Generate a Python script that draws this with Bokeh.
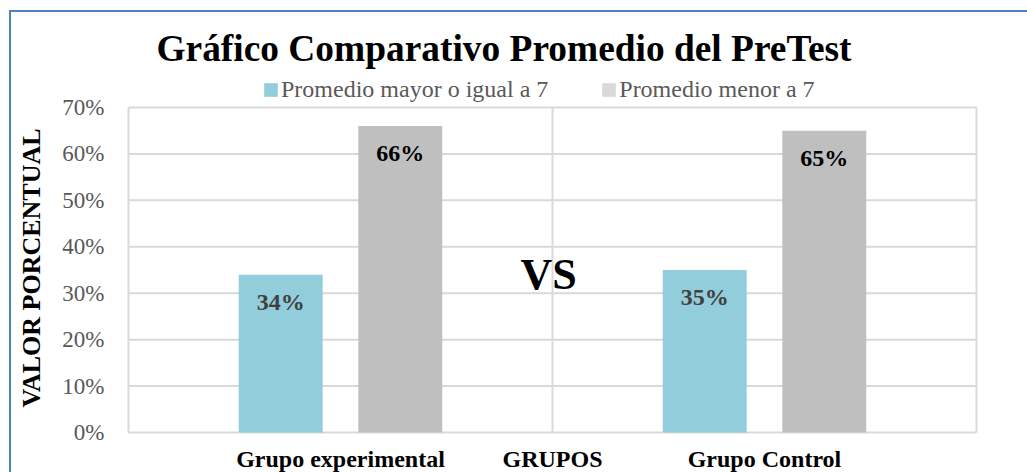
from bokeh.plotting import figure
from bokeh.models import (FixedTicker, NumeralTickFormatter, Legend, LegendItem,
                          ColumnDataSource, Label, Range1d, Title)
from bokeh.core.properties import value
from bokeh.embed import file_html
from bokeh.resources import INLINE

# ---------------- data ----------------
title_text = "Gráfico Comparativo Promedio del PreTest"
categories = ["Grupo experimental", "Grupo Control"]
x_axis_title = "GRUPOS"
y_axis_title = "VALOR PORCENTUAL"
series_names = ["Promedio mayor o igual a 7", "Promedio menor a 7"]
mayor_igual_7 = [0.34, 0.35]
menor_7 = [0.66, 0.65]
y_ticks = [0.0, 0.1, 0.2, 0.3, 0.4, 0.5, 0.6, 0.7]
vs_text = "VS"
vs_level = 0.34

# ---------------- style / geometry ----------------
FONT = "Liberation Serif"
BLUE = "#92CDDC"
GRAY = "#BFBFBF"
GRAY_LEG = "#D9D9D9"
GRID = "#D9D9D9"
TXT = "#595959"
FRAME_BLUE = "#4F81BD"

CW, CH = 1027, 472             # canvas
PA_L, PA_R, PA_T, PA_B = 128, 976, 107, 432   # plot-area box on canvas
PAD = 3
n = len(categories)
y_top = y_ticks[-1]
xs = (PA_R - PA_L) / n
ys = (PA_B - PA_T) / y_top
FL, FR, FB = PA_L - PAD, PA_R + PAD, PA_B + PAD

cat_x = [i + 0.5 for i in range(n)]
off = 0.141
bw = 0.198

p = figure(frame_width=FR - FL, frame_height=FB, title=None,
           min_border_left=FL, min_border_right=CW - FR,
           min_border_top=0, min_border_bottom=CH - FB,
           x_range=Range1d(-PAD / xs, n + PAD / xs),
           y_range=Range1d(-PAD / ys, y_top + PA_T / ys),
           output_backend="svg", toolbar_location=None, tools="")
p.styles = {
    "background-color": "white",
    "background-image": f"linear-gradient({FRAME_BLUE}, {FRAME_BLUE}), linear-gradient({FRAME_BLUE}, {FRAME_BLUE})",
    "background-size": "2px 100%, 100% 2px",
    "background-position": "9px 10px, 9px 10px",
    "background-repeat": "no-repeat",
}
p.background_fill_color = None
p.border_fill_color = None
p.outline_line_color = None
p.grid.visible = False

# plot-area grid and border
p.segment(x0=[0] * len(y_ticks), x1=[n] * len(y_ticks), y0=y_ticks, y1=y_ticks,
          line_color=GRID, line_width=2)
vx = list(range(n + 1))
p.segment(x0=vx, x1=vx, y0=[0] * len(vx), y1=[y_top] * len(vx),
          line_color=GRID, line_width=2)

src = ColumnDataSource(dict(
    x1=[c - off for c in cat_x], x2=[c + off for c in cat_x],
    a=mayor_igual_7, b=menor_7,
    la=[f"{round(v*100)}%" for v in mayor_igual_7],
    lb=[f"{round(v*100)}%" for v in menor_7],
))

r_blue = p.vbar(x="x1", top="a", width=bw, source=src, fill_color=BLUE, line_color=None)
p.vbar(x="x2", top="b", width=bw, source=src, fill_color=GRAY, line_color=None)
# zero-width twin of the gray series, only used for its (lighter) legend swatch
r_gray_leg = p.vbar(x="x2", top="b", width=0, source=src, fill_color=GRAY_LEG, line_color=None)

p.text(x="x1", y="a", text="la", source=src, y_offset=27,
       text_font=value(FONT), text_font_style="bold", text_font_size="24px",
       text_color="#404040", text_align="center", text_baseline="middle")
p.text(x="x2", y="b", text="lb", source=src, y_offset=27,
       text_font=value(FONT), text_font_style="bold", text_font_size="24px",
       text_color="#000000", text_align="center", text_baseline="middle")

p.add_layout(Label(x=n / 2, y=vs_level, text=vs_text, x_offset=-4,
                   text_font=FONT, text_font_style="bold", text_font_size="44px",
                   text_color="#000000", text_align="center", text_baseline="middle"))

# chart title (inside the extended frame, screen units from frame bottom-left)
p.add_layout(Label(x=156 - FL, y=FB - 48, x_units="screen", y_units="screen",
                   text=title_text, text_font=FONT, text_font_style="bold",
                   text_font_size="37.4px", text_color="#000000",
                   text_align="left", text_baseline="middle"))

# legend
legend = Legend(items=[LegendItem(label=series_names[0], renderers=[r_blue]),
                       LegendItem(label=series_names[1], renderers=[r_gray_leg])],
                orientation="horizontal", location=(262 - FL, FB - 102.5),
                padding=0, margin=0, spacing=52, label_standoff=2,
                glyph_width=17, glyph_height=17,
                border_line_color=None, background_fill_alpha=0,
                label_text_font=FONT, label_text_font_size="24px",
                label_text_color=TXT)
p.add_layout(legend, "center")

# y axis
p.yaxis.ticker = FixedTicker(ticks=y_ticks)
p.yaxis.formatter = NumeralTickFormatter(format="0%")
p.yaxis.axis_line_color = None
p.yaxis.major_tick_line_color = None
p.yaxis.minor_tick_line_color = None
p.yaxis.major_tick_out = 0
p.yaxis.major_tick_in = 0
p.yaxis.major_label_standoff = 21
p.yaxis.major_label_text_font = FONT
p.yaxis.major_label_text_font_size = "23px"
p.yaxis.major_label_text_color = TXT

p.add_layout(Title(text=y_axis_title, align="left", offset=28, standoff=24,
                   vertical_align="top", text_font=FONT, text_font_style="bold",
                   text_font_size="26px", text_color="#000000"), "left")

# x axis
xt = [cat_x[0], n / 2, cat_x[1]]
p.xaxis.ticker = FixedTicker(ticks=xt)
p.xaxis.major_label_overrides = {xt[0]: categories[0], xt[1]: x_axis_title, xt[2]: categories[1]}
p.xaxis.axis_line_color = None
p.xaxis.major_tick_line_color = None
p.xaxis.minor_tick_line_color = None
p.xaxis.major_tick_out = 0
p.xaxis.major_tick_in = 0
p.xaxis.major_label_standoff = 10
p.xaxis.major_label_text_font = FONT
p.xaxis.major_label_text_font_style = "bold"
p.xaxis.major_label_text_font_size = "24px"
p.xaxis.major_label_text_color = "#000000"

open("out.html", "w").write(file_html(p, INLINE))
